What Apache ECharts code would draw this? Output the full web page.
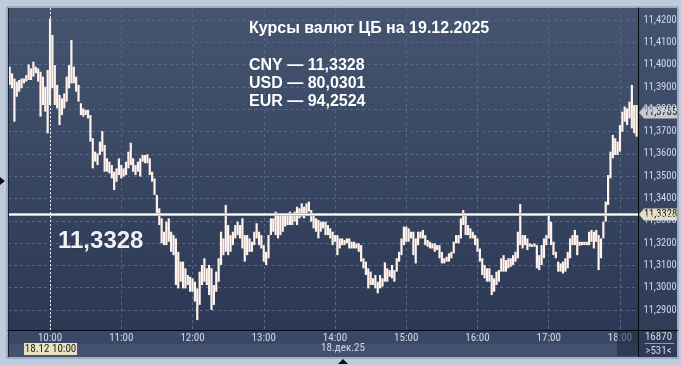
<!DOCTYPE html>
<html><head><meta charset="utf-8">
<script src="https://cdn.jsdelivr.net/npm/echarts@6/dist/echarts.min.js"></script>
<style>html,body{margin:0;padding:0;background:#bfcbdb;}#c{width:681px;height:365px;}</style>
</head><body><div id="c"></div>
<script>
// ---- data (2-minute high/low bars, CNY/RUB, 18.12.2025) ----
const times = [
'09:26','09:28','09:30','09:32','09:34','09:36','09:38','09:40','09:42','09:44','09:46','09:48','09:50','09:52','09:54','09:56','09:58',
'10:00','10:02','10:04','10:06','10:08','10:10','10:12','10:14','10:16','10:18','10:20','10:22','10:24','10:26','10:28','10:30','10:32','10:34','10:36','10:38','10:40','10:42','10:44','10:46','10:48','10:50','10:52','10:54','10:56','10:58',
'11:00','11:02','11:04','11:06','11:08','11:10','11:12','11:14','11:16','11:18','11:20','11:22','11:24','11:26','11:28','11:30','11:32','11:34','11:36','11:38','11:40','11:42','11:44','11:46','11:48','11:50','11:52','11:54','11:56','11:58',
'12:00','12:02','12:04','12:06','12:08','12:10','12:12','12:14','12:16','12:18','12:20','12:22','12:24','12:26','12:28','12:30','12:32','12:34','12:36','12:38','12:40','12:42','12:44','12:46','12:48','12:50','12:52','12:54','12:56','12:58',
'13:00','13:02','13:04','13:06','13:08','13:10','13:12','13:14','13:16','13:18','13:20','13:22','13:24','13:26','13:28','13:30','13:32','13:34','13:36','13:38','13:40','13:42','13:44','13:46','13:48','13:50','13:52','13:54','13:56','13:58',
'14:00','14:02','14:04','14:06','14:08','14:10','14:12','14:14','14:16','14:18','14:20','14:22','14:24','14:26','14:28','14:30','14:32','14:34','14:36','14:38','14:40','14:42','14:44','14:46','14:48','14:50','14:52','14:54','14:56','14:58',
'15:00','15:02','15:04','15:06','15:08','15:10','15:12','15:14','15:16','15:18','15:20','15:22','15:24','15:26','15:28','15:30','15:32','15:34','15:36','15:38','15:40','15:42','15:44','15:46','15:48','15:50','15:52','15:54','15:56','15:58',
'16:00','16:02','16:04','16:06','16:08','16:10','16:12','16:14','16:16','16:18','16:20','16:22','16:24','16:26','16:28','16:30','16:32','16:34','16:36','16:38','16:40','16:42','16:44','16:46','16:48','16:50','16:52','16:54','16:56','16:58',
'17:00','17:02','17:04','17:06','17:08','17:10','17:12','17:14','17:16','17:18','17:20','17:22','17:24','17:26','17:28','17:30','17:32','17:34','17:36','17:38','17:40','17:42','17:44','17:46','17:48','17:50','17:52','17:54','17:56','17:58',
'18:00','18:02','18:04','18:06','18:08','18:10','18:12','18:14'
];
const highs = [
11.3991,11.3961,11.3938,11.3924,11.3931,11.3938,11.3938,11.3953,11.4001,11.3983,11.4013,11.3991,11.3983,11.3968,11.3946,11.3901,11.3976,
11.4207,11.4133,11.3998,11.3909,11.3864,11.3849,11.3871,11.3946,11.3998,11.4110,11.3991,11.3946,11.3909,11.3827,11.3804,11.3797,11.3797,11.3774,11.3670,11.3610,11.3602,11.3655,11.3702,11.3640,11.3580,11.3565,11.3550,11.3520,11.3535,11.3580,
11.3550,11.3535,11.3565,11.3610,11.3650,11.3580,11.3550,11.3565,11.3580,11.3595,11.3595,11.3598,11.3580,11.3520,11.3490,11.3416,11.3356,11.3311,11.3251,11.3296,11.3311,11.3251,11.3236,11.3221,11.3161,11.3117,11.3117,11.3087,11.3057,11.3049,
11.3042,11.3027,11.2997,11.3072,11.3102,11.3132,11.3087,11.3102,11.3087,11.3012,11.3072,11.3132,11.3251,11.3221,11.3371,11.3281,11.3236,11.3251,11.3281,11.3296,11.3281,11.3311,11.3236,11.3236,11.3221,11.3206,11.3251,11.3289,11.3251,11.3236,
11.3191,11.3161,11.3236,11.3311,11.3311,11.3341,11.3334,11.3326,11.3326,11.3326,11.3326,11.3341,11.3326,11.3341,11.3363,11.3356,11.3378,11.3363,11.3378,11.3386,11.3348,11.3326,11.3311,11.3304,11.3296,11.3296,11.3296,11.3281,11.3266,11.3251,
11.3236,11.3236,11.3221,11.3221,11.3214,11.3221,11.3221,11.3206,11.3206,11.3199,11.3199,11.3191,11.3132,11.3117,11.3087,11.3072,11.3042,11.3057,11.3027,11.3057,11.3042,11.3114,11.3087,11.3079,11.3102,11.3079,11.3132,11.3161,11.3221,11.3274,
11.3274,11.3266,11.3251,11.3251,11.3221,11.3251,11.3251,11.3259,11.3236,11.3214,11.3206,11.3199,11.3199,11.3191,11.3191,11.3161,11.3132,11.3139,11.3154,11.3161,11.3206,11.3236,11.3236,11.3311,11.3348,11.3334,11.3281,11.3266,11.3251,11.3236,
11.3221,11.3176,11.3132,11.3102,11.3087,11.3087,11.3057,11.3042,11.3072,11.3079,11.3132,11.3146,11.3124,11.3132,11.3132,11.3146,11.3161,11.3251,11.3375,11.3236,11.3236,11.3221,11.3199,11.3194,11.3199,11.3191,11.3146,11.3191,11.3221,11.3236,
11.3334,11.3296,11.3206,11.3161,11.3117,11.3109,11.3117,11.3132,11.3161,11.3221,11.3236,11.3259,11.3236,11.3206,11.3206,11.3206,11.3206,11.3251,11.3259,11.3251,11.3259,11.3236,11.3221,11.3296,11.3386,11.3505,11.3610,11.3685,11.3670,11.3655,
11.3729,11.3789,11.3812,11.3804,11.3834,11.3909,11.3819,11.3819
];
const lows = [
11.3909,11.3894,11.3744,11.3856,11.3879,11.3894,11.3916,11.3924,11.3931,11.3931,11.3946,11.3961,11.3924,11.3767,11.3819,11.3789,11.3692,
11.3819,11.3894,11.3819,11.3804,11.3729,11.3774,11.3804,11.3834,11.3894,11.3916,11.3916,11.3879,11.3834,11.3774,11.3767,11.3774,11.3759,11.3655,11.3535,11.3565,11.3550,11.3595,11.3610,11.3520,11.3520,11.3513,11.3490,11.3438,11.3475,11.3505,
11.3490,11.3498,11.3505,11.3535,11.3550,11.3520,11.3505,11.3520,11.3498,11.3565,11.3558,11.3558,11.3505,11.3475,11.3416,11.3326,11.3281,11.3199,11.3191,11.3191,11.3206,11.3161,11.3146,11.3012,11.2997,11.3027,11.2997,11.2997,11.3012,11.2982,
11.2982,11.2938,11.2855,11.2923,11.3012,11.3027,11.3012,11.2967,11.2900,11.2923,11.2982,11.3027,11.3102,11.3146,11.3161,11.3146,11.3161,11.3191,11.3221,11.3236,11.3221,11.3176,11.3117,11.3146,11.3161,11.3161,11.3191,11.3221,11.3191,11.3176,
11.3117,11.3102,11.3132,11.3236,11.3251,11.3236,11.3221,11.3236,11.3251,11.3274,11.3281,11.3281,11.3281,11.3296,11.3281,11.3311,11.3319,11.3311,11.3334,11.3341,11.3296,11.3266,11.3251,11.3221,11.3251,11.3266,11.3236,11.3236,11.3221,11.3191,
11.3206,11.3146,11.3176,11.3191,11.3191,11.3199,11.3176,11.3176,11.3176,11.3176,11.3161,11.3117,11.3087,11.3057,11.2997,11.3012,11.3012,11.2997,11.2975,11.2997,11.3005,11.3027,11.3027,11.3049,11.3042,11.3027,11.3072,11.3117,11.3146,11.3191,
11.3206,11.3206,11.3221,11.3146,11.3109,11.3191,11.3221,11.3221,11.3191,11.3184,11.3176,11.3176,11.3161,11.3169,11.3132,11.3109,11.3109,11.3117,11.3117,11.3132,11.3154,11.3199,11.3199,11.3221,11.3281,11.3236,11.3236,11.3221,11.3221,11.3191,
11.3161,11.3117,11.3057,11.3042,11.3027,11.3027,11.2967,11.2982,11.3012,11.3027,11.3072,11.3072,11.3072,11.3087,11.3094,11.3102,11.3117,11.3132,11.3191,11.3176,11.3191,11.3169,11.3184,11.3183,11.3184,11.3087,11.3079,11.3102,11.3132,11.3191,
11.3221,11.3191,11.3146,11.3132,11.3072,11.3072,11.3064,11.3072,11.3087,11.3132,11.3191,11.3191,11.3146,11.3188,11.3191,11.3191,11.3191,11.3191,11.3206,11.3176,11.3206,11.3079,11.3132,11.3221,11.3296,11.3371,11.3490,11.3580,11.3595,11.3595,
11.3610,11.3699,11.3744,11.3729,11.3759,11.3714,11.3692,11.3677
];
const yTicks = [11.29,11.30,11.31,11.32,11.33,11.34,11.35,11.36,11.37,11.38,11.39,11.40,11.41,11.42];
const xTicks = ['10:00','11:00','12:00','13:00','14:00','15:00','16:00','17:00','18:00'];
const titleText = 'Курсы валют ЦБ на 19.12.2025';
const rateLines = ['CNY — 11,3328','USD — 80,0301','EUR — 94,2524'];
const cbRate = 11.3328;
const lastPrice = 11.3785;
const cursorTime = '10:00';
const cursorLabel = '18.12 10:00';
const midTime = '14:00';
const dateLabel = '18.дек.25';
const volumeText = '16870';
const barsText = '>531<';

// ---- helpers ----
const toMin = s => parseInt(s.slice(0,2),10)*60 + parseInt(s.slice(3),10);
const fmtTime = m => String(Math.floor(m/60)).padStart(2,'0') + ':' + String(Math.round(m%60)).padStart(2,'0');
const fmtPrice = v => v.toFixed(4).replace('.', ',');
const NARROW = "'Roboto Condensed','Liberation Sans',Arial,sans-serif";
const BOLD = "'Liberation Sans',Arial,sans-serif";
const barData = times.map((t,i) => [toMin(t), lows[i], highs[i]]);

const chart = echarts.init(document.getElementById('c'), null, {renderer:'canvas'});
chart.setOption({
  backgroundColor: '#bfcbdb',
  animation: false,
  grid: {left: 8, right: 42.5, top: 8, bottom: 35, containLabel: false},
  xAxis: {
    type: 'value', min: 564.6, max: 1095.6,
    axisLine: {show: true, onZero: false, lineStyle: {color: '#05080f', width: 1}},
    axisTick: {show: false, customValues: xTicks.map(toMin)},
    axisLabel: {customValues: xTicks.map(toMin), formatter: v => fmtTime(v), color: '#d0d9e8',
      fontSize: 11, fontFamily: NARROW, margin: 3},
    splitLine: {show: true, lineStyle: {color: '#56678a', type: [3,3], width: 1}}
  },
  yAxis: {
    type: 'value', position: 'right', min: 11.28105, max: 11.42538,
    axisLine: {show: true, lineStyle: {color: '#05080f', width: 1}},
    axisTick: {show: false, customValues: yTicks},
    axisLabel: {customValues: yTicks, formatter: v => fmtPrice(v), color: '#d0d9e8',
      fontSize: 10.5, fontFamily: NARROW, margin: 5},
    splitLine: {show: true, lineStyle: {color: '#56678a', type: [3,3], width: 1}}
  },
  series: [
    {
      type: 'custom', clip: true, z: 3,
      encode: {x: 0, y: [1, 2]},
      data: barData,
      renderItem: (params, api) => {
        const t = api.value(0);
        const a = api.coord([t, api.value(2)]);
        const b = api.coord([t, api.value(1)]);
        return {type: 'rect', shape: {x: a[0]-1.1, y: a[1], width: 2.2, height: Math.max(1, b[1]-a[1])},
          style: {fill: '#fff3ec'}};
      }
    }
  ]
});

const yLast = chart.convertToPixel({yAxisIndex: 0}, lastPrice);
const yRate = chart.convertToPixel({yAxisIndex: 0}, cbRate);
const xCursor = chart.convertToPixel({xAxisIndex: 0}, toMin(cursorTime));
const xMid = chart.convertToPixel({xAxisIndex: 0}, toMin(midTime));
const gridTop = chart.convertToPixel({yAxisIndex: 0}, 11.42538);
const gridBottom = chart.convertToPixel({yAxisIndex: 0}, 11.28105);
const gridLeft = chart.convertToPixel({xAxisIndex: 0}, 564.6);
const gridRight = chart.convertToPixel({xAxisIndex: 0}, 1095.6);

function tag(y, fill, text) {
  return {type: 'group', x: 639, y: y, z: 100, children: [
    {type: 'polygon', shape: {points: [[0,0],[5,-6],[38,-6],[38,6],[5,6]]},
      style: {fill: fill, stroke: '#8a8f99', lineWidth: 0.5}},
    {type: 'text', x: 21.5, y: 0, style: {text: text, fill: '#111', font: '10.5px ' + NARROW,
      textAlign: 'center', textVerticalAlign: 'middle'}}
  ]};
}

chart.setOption({
  graphic: [
    // panels
    {type: 'rect', z: -100, shape: {x: 7, y: 7, width: 671, height: 351},
      style: {fill: 'none', stroke: '#7f8fa8', lineWidth: 1}},
    {type: 'rect', z: -90, shape: {x: 8, y: 8, width: 631, height: 323},
      style: {fill: new echarts.graphic.LinearGradient(0,0,0,1,[{offset:0,color:'#45556f'},{offset:1,color:'#2c3854'}])}},
    {type: 'rect', z: -90, shape: {x: 639, y: 8, width: 38, height: 349},
      style: {fill: new echarts.graphic.LinearGradient(0,0,0,1,[{offset:0,color:'#43536e'},{offset:1,color:'#2e3a56'}])}},
    {type: 'rect', z: -90, shape: {x: 8, y: 331, width: 631, height: 13}, style: {fill: '#3a4866'}},
    {type: 'rect', z: -90, shape: {x: 8, y: 344, width: 631, height: 13}, style: {fill: '#425170'}},
    {type: 'rect', z: 50, shape: {x: 617, y: 331, width: 21, height: 25}, style: {fill: 'rgba(30,40,62,0.55)'}},
    {type: 'line', z: 60, shape: {x1: 638.5, y1: 8, x2: 638.5, y2: 357}, style: {stroke: '#05080f', lineWidth: 1}},
    {type: 'line', z: 60, shape: {x1: 8, y1: 330.5, x2: 678, y2: 330.5}, style: {stroke: '#05080f', lineWidth: 1}},
    {type: 'line', z: 60, shape: {x1: 8.5, y1: 8, x2: 8.5, y2: 357}, style: {stroke: '#1a2233', lineWidth: 1}},
    // CB rate line (from value) and cursor line (from time)
    {type: 'line', z: 40, shape: {x1: gridLeft, y1: yRate, x2: gridRight, y2: yRate},
      style: {stroke: '#b9bec8', lineWidth: 3}},
    {type: 'line', z: 41, shape: {x1: gridLeft, y1: yRate, x2: gridRight, y2: yRate},
      style: {stroke: '#ffffff', lineWidth: 1}},
    {type: 'line', z: 41, shape: {x1: Math.round(xCursor)+0.5, y1: gridTop, x2: Math.round(xCursor)+0.5, y2: gridBottom},
      style: {stroke: '#e8ecf2', lineWidth: 1, lineDash: [2,2]}},
    // small triangles on frame
    {type: 'polygon', z: 60, shape: {points: [[0,177],[5,181],[0,185]]}, style: {fill: '#111'}},
    {type: 'polygon', z: 60, shape: {points: [[338,364],[343,359],[348,364]]}, style: {fill: '#111'}},
    // texts
    {type: 'text', z: 100, x: 249, y: 28.5, style: {text: titleText, fill: '#ffffff',
      font: 'bold 16px ' + BOLD, textVerticalAlign: 'middle'}},
    {type: 'text', z: 100, x: 249, y: 65.5, style: {text: rateLines[0], fill: '#ffffff',
      font: 'bold 16px ' + BOLD, textVerticalAlign: 'middle'}},
    {type: 'text', z: 100, x: 249, y: 83.5, style: {text: rateLines[1], fill: '#ffffff',
      font: 'bold 16px ' + BOLD, textVerticalAlign: 'middle'}},
    {type: 'text', z: 100, x: 249, y: 101.5, style: {text: rateLines[2], fill: '#ffffff',
      font: 'bold 16px ' + BOLD, textVerticalAlign: 'middle'}},
    {type: 'text', z: 100, x: 58, y: 241, style: {text: fmtPrice(cbRate), fill: '#eef0f4',
      font: 'bold 24px ' + BOLD, textVerticalAlign: 'middle',
      textShadowColor: 'rgba(0,0,0,0.35)', textShadowBlur: 2}},
    // right axis tags
    tag(yLast, '#c5c9d1', fmtPrice(lastPrice)),
    tag(yRate, '#e6e1c4', fmtPrice(cbRate)),
    // cursor date box
    {type: 'group', z: 100, x: xCursor, y: 349, children: [
      {type: 'rect', shape: {x: -26, y: -6, width: 53, height: 12}, style: {fill: '#e9e3c3'}},
      {type: 'text', x: 0.5, y: 0, style: {text: cursorLabel, fill: '#1e1e1e', font: '11px ' + NARROW,
        textAlign: 'center', textVerticalAlign: 'middle'}}
    ]},
    {type: 'text', z: 100, x: xMid + 8, y: 348, style: {text: dateLabel, fill: '#d0d9e8',
      font: '11px ' + NARROW, textAlign: 'center', textVerticalAlign: 'middle'}},
    {type: 'text', z: 100, x: 658.5, y: 337, style: {text: volumeText, fill: '#d0d9e8',
      font: '11px ' + NARROW, textAlign: 'center', textVerticalAlign: 'middle'}},
    {type: 'line', z: 100, shape: {x1: 645, y1: 343.5, x2: 674, y2: 343.5}, style: {stroke: '#8d9ab0', lineWidth: 1}},
    {type: 'text', z: 100, x: 658.5, y: 351, style: {text: barsText, fill: '#d0d9e8',
      font: '11px ' + NARROW, textAlign: 'center', textVerticalAlign: 'middle'}}
  ]
});
</script></body></html>
